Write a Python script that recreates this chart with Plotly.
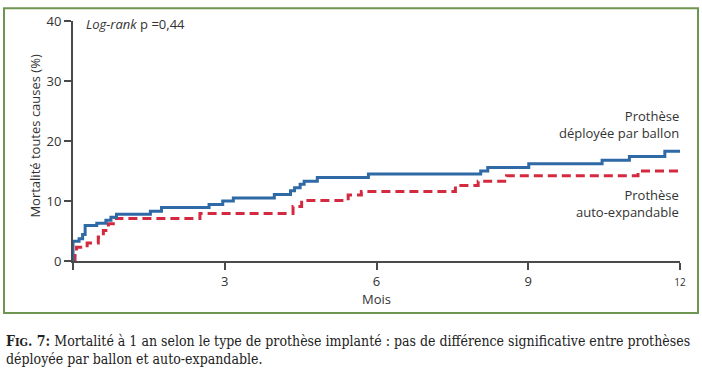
import plotly.graph_objects as go

# Kaplan-Meier style cumulative mortality (%) by month
ballon_months = [0, 0.0, 0.12, 0.19, 0.24, 0.47, 0.65, 0.75, 0.86, 1.53, 1.75, 2.69, 2.96, 3.17,
                 3.98, 4.30, 4.38, 4.49, 4.57, 4.83, 5.84, 8.06, 8.20, 9.01, 10.46, 11.00, 11.70, 12.0]
ballon_mortality = [0, 3.3, 3.7, 4.4, 5.9, 6.3, 6.8, 7.3, 7.8, 8.3, 8.9, 9.4, 10.0, 10.5,
                    11.1, 11.7, 12.2, 12.8, 13.3, 13.9, 14.5, 15.0, 15.6, 16.2, 16.8, 17.4, 18.3, 18.3]

auto_months = [0, 0.04, 0.07, 0.28, 0.50, 0.60, 0.70, 0.83, 2.51, 4.35, 4.52, 5.44, 5.70,
               7.56, 8.01, 8.57, 11.17, 12.0]
auto_mortality = [0, 1.2, 2.3, 3.0, 4.0, 5.1, 6.2, 7.1, 7.9, 9.1, 10.1, 11.0, 11.6,
                  12.6, 13.3, 14.2, 15.0, 15.0]

x_tickvals = [0, 3, 6, 9, 12]
x_ticktext = ["", "3", "6", "9", "<span style='font-size:10px'>12</span>"]
y_tickvals = [0, 10, 20, 30, 40]
y_ticktext = ["0", "10", "20", "30", "40"]

BLUE = "#2f69a6"
RED = "#d42a3f"
AX = "#4a4a4a"
FONT = "Open Sans"

fig = go.Figure()
fig.add_trace(go.Scatter(x=auto_months, y=auto_mortality, mode="lines", line_shape="hv",
                         line=dict(color=RED, width=3, dash="9px,5px"), cliponaxis=False,
                         name="Prothèse auto-expandable"))
fig.add_trace(go.Scatter(x=ballon_months, y=ballon_mortality, mode="lines", line_shape="hv",
                         line=dict(color=BLUE, width=3), cliponaxis=False,
                         name="Prothèse déployée par ballon"))

L, R, T, B = 73, 22, 16, 109
W, H = 702, 370
pw, ph = W - L - R, H - T - B

def px(xp):
    return (xp - L) / pw

def py(yp):
    return (H - B - yp) / ph

fig.update_layout(
    width=W, height=H,
    margin=dict(l=L, r=R, t=T, b=B),
    paper_bgcolor="white", plot_bgcolor="white",
    showlegend=False,
    font=dict(family=FONT, size=13, color="#333"),
    xaxis=dict(range=[0, 12], showgrid=False, zeroline=False, showline=True,
               linecolor=AX, linewidth=2, ticks="outside", ticklen=7, tickwidth=2,
               tickcolor=AX, tickvals=x_tickvals, ticktext=x_ticktext,
               tickfont=dict(family=FONT, size=13, color="#333")),
    yaxis=dict(range=[0, 40], showgrid=False, zeroline=False, showline=True,
               linecolor=AX, linewidth=2, ticks="outside", ticklen=7, tickwidth=2,
               tickcolor=AX, tickvals=y_tickvals, ticktext=y_ticktext,
               tickfont=dict(family=FONT, size=13, color="#333")),
    shapes=[dict(type="rect", xref="paper", yref="paper",
                 x0=px(4), x1=px(698), y0=py(314), y1=py(3),
                 line=dict(color="#6f9650", width=2), fillcolor="rgba(0,0,0,0)", layer="below")],
    annotations=[
        dict(text="<i>Log-rank</i> p =0,44", xref="paper", yref="paper", x=px(84), y=py(19),
             xanchor="left", yanchor="middle", showarrow=False, font=dict(size=13, color="#333")),
        dict(text="Prothèse<br>déployée par ballon", xref="paper", yref="paper", x=px(681), y=py(122),
             xanchor="right", yanchor="middle", align="right", showarrow=False,
             font=dict(size=13, color="#333")),
        dict(text="Prothèse<br>auto-expandable", xref="paper", yref="paper", x=px(681), y=py(202),
             xanchor="right", yanchor="middle", align="right", showarrow=False,
             font=dict(size=13, color="#333")),
        dict(text="Mortalité toutes causes (%)", xref="paper", yref="paper", x=px(35), y=py(133),
             xanchor="center", yanchor="middle", textangle=-90, showarrow=False,
             font=dict(size=13, color="#333")),
        dict(text="Mois", xref="paper", yref="paper", x=px(376), y=py(300),
             xanchor="center", yanchor="middle", showarrow=False, font=dict(size=13, color="#333")),
        dict(text="<b>F<span style='font-size:11px'>IG</span>. 7:</b> Mortalité à 1 an selon le type de prothèse implanté : "
                  "pas de différence significative entre prothèses<br>déployée par ballon et auto-expandable.",
             xref="paper", yref="paper", x=px(4), y=py(332), xanchor="left", yanchor="top",
             align="left", showarrow=False,
             font=dict(family="DejaVu Serif Condensed", size=14, color="#222")),
    ],
)

fig.write_html("out.html", config={"displayModeBar": False},
               post_script="document.body.style.margin='0';document.body.style.padding='0';")
